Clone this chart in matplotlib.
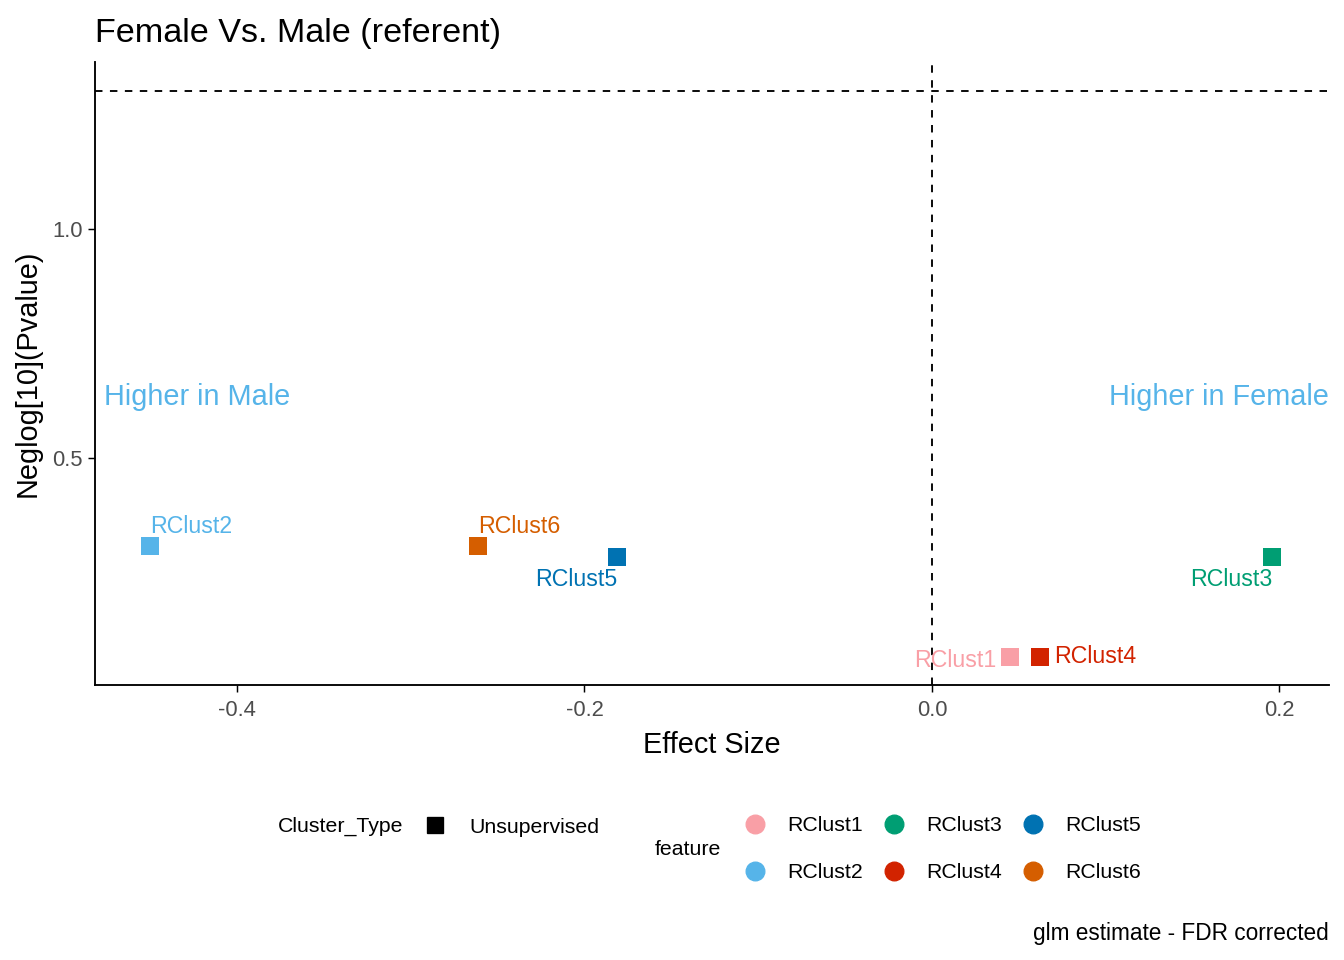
import matplotlib.pyplot as plt
from matplotlib.lines import Line2D
from matplotlib.transforms import blended_transform_factory

plt.rcParams['font.family'] = ['Liberation Sans', 'DejaVu Sans']
plt.rcParams['axes.unicode_minus'] = False

# effect sizes and -log10 p values per cluster
features = ['RClust1', 'RClust2', 'RClust3', 'RClust4', 'RClust5', 'RClust6']
effect = [0.045, -0.450, 0.196, 0.062, -0.181, -0.261]
neglogp = [0.068, 0.310, 0.286, 0.068, 0.286, 0.310]
colors = ['#F99FA6', '#56B4E9', '#009E73', '#D22300', '#0072B2', '#D55E00']
cluster_type = 'Unsupervised'
sig_line = 1.301  # -log10(0.05)

# label offsets in points (ha, dx, dy) - mimic ggrepel placement
label_pos = {
    'RClust1': ('right', -10, -3),
    'RClust2': ('left', 0, 14),
    'RClust3': ('right', 0, -17),
    'RClust4': ('left', 11, 0),
    'RClust5': ('right', 0, -17),
    'RClust6': ('left', 0, 14),
}

fig = plt.figure(figsize=(14, 10), dpi=96)
ax = fig.add_axes([0.0707, 0.2865, 0.9181, 0.6489])

for f, x, y, c in zip(features, effect, neglogp, colors):
    ax.scatter(x, y, marker='s', s=185, color=c, zorder=3, linewidths=0)
    ha, dx, dy = label_pos[f]
    ax.annotate(f, (x, y), xytext=(dx, dy), textcoords='offset points',
                ha=ha, va='center', color=c, fontsize=17.3)

ax.axhline(sig_line, color='black', ls=(0, (4, 4)), lw=1.4)
ax.axvline(0, color='black', ls=(0, (4, 4)), lw=1.4)

trans = blended_transform_factory(ax.transAxes, ax.transData)
ax.text(0.007, 0.634, 'Higher in Male', transform=trans, ha='left', va='center',
        color='#56B4E9', fontsize=21.7)
ax.text(1.0, 0.634, 'Higher in Female', transform=trans, ha='right', va='center',
        color='#56B4E9', fontsize=21.7)

ax.set_xlim(-0.4817, 0.2285)
ax.set_ylim(0.006, 1.364)
ax.set_xticks([-0.4, -0.2, 0.0, 0.2])
ax.set_yticks([0.5, 1.0])
ax.tick_params(labelsize=16.5, labelcolor='#4D4D4D', color='black', length=5, width=1.1)
ax.tick_params(axis='x', pad=6)
ax.tick_params(axis='y', pad=4)
for s in ['top', 'right']:
    ax.spines[s].set_visible(False)
for s in ['left', 'bottom']:
    ax.spines[s].set_linewidth(1.4)

ax.set_xlabel('Effect Size', fontsize=21.7, labelpad=8)
ax.set_ylabel('Neglog[10](Pvalue)', fontsize=21.7, labelpad=8)
ax.set_title('Female Vs. Male (referent)', fontsize=25.6, loc='left', pad=15)

# legends
fs_leg = 15.9
h_type = [Line2D([], [], marker='s', color='black', ls='none', markersize=12)]
fig.legend(h_type, [cluster_type], loc='center left',
           bbox_to_anchor=(0.3158, 0.1385), frameon=False, fontsize=fs_leg,
           handlelength=1.0, handletextpad=1.1, borderpad=0, borderaxespad=0)
fig.text(0.2068, 0.1396, 'Cluster_Type', fontsize=fs_leg, ha='left', va='center')

h_feat = [Line2D([], [], marker='o', color=c, ls='none', markersize=14) for c in colors]
fig.legend(h_feat, features, loc='center left', ncol=3,
           bbox_to_anchor=(0.5539, 0.1156), frameon=False, fontsize=fs_leg,
           handlelength=1.0, handletextpad=1.02, columnspacing=0.97,
           labelspacing=1.32, borderpad=0, borderaxespad=0)
fig.text(0.5115, 0.1156, 'feature', fontsize=fs_leg, ha='center', va='center')

fig.text(0.9888, 0.028, 'glm estimate - FDR corrected', fontsize=17.0,
         ha='right', va='center')

fig.savefig('out.png', dpi=96)
